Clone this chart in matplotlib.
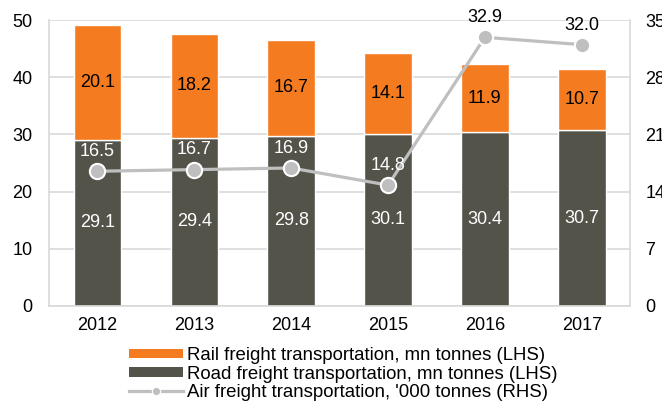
import matplotlib
matplotlib.use("Agg")
import matplotlib.pyplot as plt
from matplotlib.patches import Patch
from matplotlib.lines import Line2D
import numpy as np

plt.rcParams['font.family'] = ['Liberation Sans', 'DejaVu Sans']

years = ['2012', '2013', '2014', '2015', '2016', '2017']
road = [29.1, 29.4, 29.8, 30.1, 30.4, 30.7]
rail = [20.1, 18.2, 16.7, 14.1, 11.9, 10.7]
air = [16.5, 16.7, 16.9, 14.8, 32.9, 32.0]

road_col = '#53534a'
rail_col = '#f47b20'
air_col = '#bfbfbf'
grid_col = '#d9d9d9'
fs = 13

fig = plt.figure(figsize=(6.62, 4.03), dpi=100)
ax = fig.add_axes([0.074, 0.2407, 0.878, 0.7093])
x = np.arange(len(years))

ax.bar(x, road, width=0.49, color=road_col, edgecolor='white', linewidth=1, zorder=2)
ax.bar(x, rail, width=0.49, bottom=road, color=rail_col, edgecolor='white', linewidth=1, zorder=2)

for i in range(len(years)):
    ax.text(x[i], road[i] / 2, f'{road[i]:.1f}', ha='center', va='center',
            color='white', fontsize=fs, zorder=3)
    ax.text(x[i], road[i] + rail[i] / 2, f'{rail[i]:.1f}', ha='center', va='center',
            color='black', fontsize=fs, zorder=3)

ax.set_xlim(-0.5, len(years) - 0.5)
ax.set_ylim(0, 50)
ax.set_yticks(range(0, 51, 10))
ax.set_xticks(x)
ax.set_xticklabels(years)
ax.yaxis.grid(True, color=grid_col, linewidth=1.2, zorder=0)
ax.set_axisbelow(True)
ax.tick_params(axis='y', length=0, pad=12, labelsize=fs)
ax.tick_params(axis='x', length=0, pad=8, labelsize=fs)
for s in ['top', 'right']:
    ax.spines[s].set_visible(False)
for s in ['left', 'bottom']:
    ax.spines[s].set_color(grid_col)
    ax.spines[s].set_linewidth(1.2)

ax2 = ax.twinx()
ax2.set_ylim(0, 35)
ax2.set_yticks(range(0, 36, 7))
ax2.tick_params(axis='y', length=0, pad=11, labelsize=fs)
for s in ['top', 'left', 'bottom']:
    ax2.spines[s].set_visible(False)
ax2.spines['right'].set_color(grid_col)
ax2.spines['right'].set_linewidth(1.2)

ax2.plot(x, air, color=air_col, linewidth=2.3, marker='o', markersize=11,
         markerfacecolor=air_col, markeredgecolor='white', markeredgewidth=1.5, zorder=4)
for i in range(len(years)):
    col = 'white' if air[i] < 25 else 'black'
    ax2.annotate(f'{air[i]:.1f}', (x[i], air[i]), xytext=(0, 8), textcoords='offset points',
                 ha='center', va='bottom', color=col, fontsize=fs, zorder=5)

handles = [
    Patch(facecolor=rail_col, edgecolor='none'),
    Patch(facecolor=road_col, edgecolor='none'),
    Line2D([0], [0], color=air_col, linewidth=2.3, marker='o', markersize=6,
           markerfacecolor=air_col, markeredgecolor='white', markeredgewidth=0.8),
]
labels = ['Rail freight transportation, mn tonnes (LHS)',
          'Road freight transportation, mn tonnes (LHS)',
          "Air freight transportation, '000 tonnes (RHS)"]
fig.legend(handles, labels, loc='upper center', bbox_to_anchor=(0.518, 0.162),
           frameon=False, fontsize=13.4, handlelength=2.9, handleheight=0.4,
           handletextpad=0.2, labelspacing=0.08, borderpad=0)

fig.savefig('out.png', dpi=100)
